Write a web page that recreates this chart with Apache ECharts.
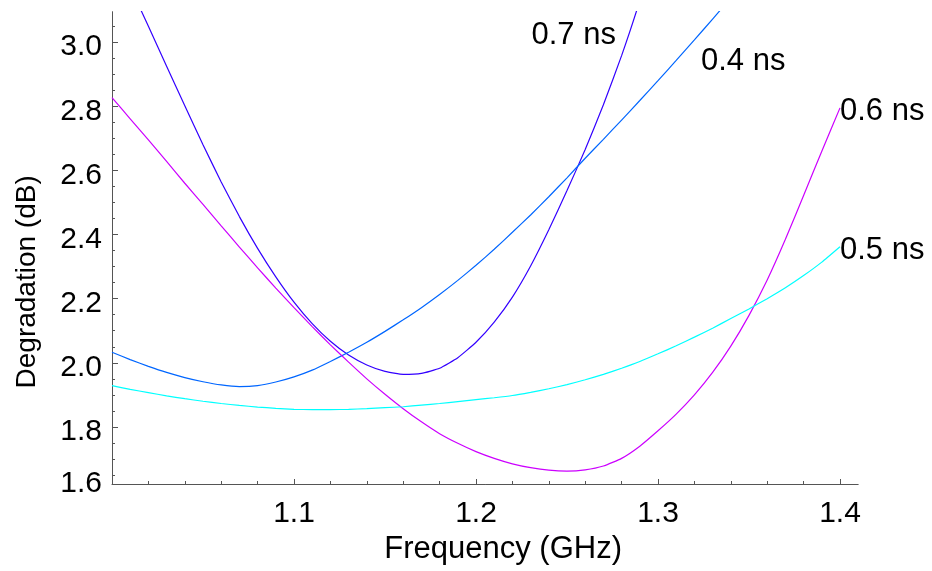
<!DOCTYPE html>
<html>
<head>
<meta charset="utf-8">
<script src="https://cdn.jsdelivr.net/npm/echarts@6/dist/echarts.min.js"></script>
<style>
html,body{margin:0;padding:0;background:#fff;}
#chart{width:932px;height:571px;}
</style>
</head>
<body>
<div id="chart"></div>
<script>
// Frequency grid (GHz)
const freq = [1.00,1.01,1.02,1.03,1.04,1.05,1.06,1.07,1.08,1.09,
              1.10,1.11,1.12,1.13,1.14,1.15,1.16,1.17,1.18,1.19,
              1.20,1.21,1.22,1.23,1.24,1.25,1.26,1.27,1.28,1.29,
              1.30,1.31,1.32,1.33,1.34,1.35,1.36,1.37,1.38,1.39,1.40];
// Degradation (dB) per pulse width (null = off the plotted range)
const ns04 = [2.033,2.010,1.989,1.970,1.954,1.941,1.931,1.926,1.929,1.940,
              1.956,1.977,2.004,2.033,2.064,2.098,2.134,2.172,2.213,2.257,
              2.304,2.354,2.407,2.461,2.518,2.577,2.638,2.697,2.757,2.818,
              2.880,2.943,3.007,3.072,3.138,null,null,null,null,null,null];
const ns05 = [1.929,1.917,1.907,1.897,1.888,1.880,1.873,1.867,1.862,1.858,
              1.855,1.854,1.854,1.855,1.857,1.860,1.863,1.868,1.873,1.879,
              1.885,1.891,1.898,1.908,1.919,1.932,1.947,1.964,1.983,2.004,
              2.028,2.053,2.080,2.108,2.138,2.168,2.200,2.234,2.272,2.314,2.362];
const ns06 = [2.827,2.761,2.695,2.628,2.560,2.494,2.427,2.361,2.296,2.233,
              2.172,2.113,2.056,2.002,1.950,1.902,1.857,1.816,1.779,1.749,
              1.723,1.702,1.685,1.673,1.665,1.662,1.666,1.678,1.702,1.740,
              1.788,1.840,1.900,1.970,2.052,2.148,2.258,2.385,2.522,2.660,2.795];
const ns07 = [3.300,3.172,3.050,2.925,2.802,2.680,2.564,2.456,2.357,2.268,
              2.189,2.122,2.067,2.024,1.993,1.973,1.964,1.967,1.983,2.016,
              2.064,2.127,2.205,2.302,2.415,2.537,2.665,2.805,2.958,3.130,
              3.330,null,null,null,null,null,null,null,null,null,null];
const seriesNames = ['0.7 ns','0.4 ns','0.6 ns','0.5 ns'];
// label anchors (data coordinates)
const labelAt = [[1.278,3.020],[1.3225,2.939],[1.400,2.783],[1.400,2.350]];
// ticks
const xMajor = [1.1,1.2,1.3,1.4];
const xMinor = [1.02,1.04,1.06,1.08,1.12,1.14,1.16,1.18,1.22,1.24,1.26,1.28,1.32,1.34,1.36,1.38];
const yLabels = [1.622,1.8,2.0,2.2,2.4,2.6,2.8,3.0];
const yMajor = [1.8,2.0,2.2,2.4,2.6,2.8,3.0];
const yMinor = [1.65,1.70,1.75,1.85,1.90,1.95,2.05,2.10,2.15,2.25,2.30,2.35,2.45,2.50,2.55,2.65,2.70,2.75,2.85,2.90,2.95,3.05];

const FONT = '"Liberation Sans", Arial, Helvetica, sans-serif';
const colors = ['#3300ff','#0066ff','#cc00ff','#00ffff'];
const values = [ns07, ns04, ns06, ns05];
const labelPos = ['left','right','right','right'];
const labelDist = [2,2,0,0];

function pairs(arr){
  return freq.map((f,i)=>[f, arr[i]]).filter(p=>p[1]!==null);
}

const axisColor = '#555';
const chart = echarts.init(document.getElementById('chart'), null, {renderer:'canvas'});
chart.setOption({
  animation:false,
  backgroundColor:'#fff',
  grid:{left:112, top:11.7, right:73.8, bottom:87, containLabel:false, outerBoundsMode:'none'},
  xAxis:[
    {type:'value', min:1.0, max:1.41, position:'bottom',
     axisLine:{show:true, lineStyle:{color:axisColor, width:1}},
     splitLine:{show:false},
     axisTick:{show:true, inside:true, length:5, customValues:xMajor, lineStyle:{color:axisColor}},
     axisLabel:{show:true, customValues:xMajor, formatter:v=>v.toFixed(1), fontSize:30, color:'#000', fontFamily:FONT, margin:15},
     name:'Frequency (GHz)', nameLocation:'middle', nameGap:44,
     nameTextStyle:{fontSize:31, color:'#000', fontFamily:FONT, padding:[0,0,0,36]}
    },
    {type:'value', min:1.0, max:1.41, position:'bottom',
     axisLine:{show:false}, splitLine:{show:false},
     axisTick:{show:true, inside:true, length:3, customValues:xMinor, lineStyle:{color:axisColor}},
     axisLabel:{show:false}
    }
  ],
  yAxis:[
    {type:'value', min:1.622, max:3.095, position:'left',
     axisLine:{show:true, lineStyle:{color:axisColor, width:1}},
     splitLine:{show:false},
     axisTick:{show:true, inside:true, length:6, customValues:yMajor, lineStyle:{color:axisColor}},
     axisLabel:{show:true, customValues:yLabels, margin:10,
       formatter:v=> v < 1.7 ? '{m|' + v.toFixed(1) + '}' : '{n|' + v.toFixed(1) + '}',
       rich:{
         m:{fontSize:30, color:'#000', fontFamily:FONT},
         n:{fontSize:30, color:'#000', fontFamily:FONT, padding:[10,0,0,0]}
       }},
     name:'Degradation (dB)', nameLocation:'middle', nameGap:71,
     nameTextStyle:{fontSize:28, color:'#000', fontFamily:FONT, padding:[0,68,0,0]}
    },
    {type:'value', min:1.622, max:3.095, position:'left',
     axisLine:{show:false}, splitLine:{show:false},
     axisTick:{show:true, inside:true, length:3, customValues:yMinor, lineStyle:{color:axisColor}},
     axisLabel:{show:false}
    }
  ],
  series: values.map((arr,k)=>({
    type:'line', name:seriesNames[k], xAxisIndex:0, yAxisIndex:0,
    data:pairs(arr), symbol:'none', showSymbol:false, smooth:0.15, clip:true,
    color:colors[k], lineStyle:{color:colors[k], width:1.2},
    markPoint:{
      symbol:'circle', symbolSize:0, silent:true,
      data:[{coord:labelAt[k], value:seriesNames[k]}],
      label:{show:true, position:labelPos[k], distance:labelDist[k], formatter:seriesNames[k], color:'#000', fontSize:31, fontFamily:FONT}
    }
  }))
});
</script>
</body>
</html>
